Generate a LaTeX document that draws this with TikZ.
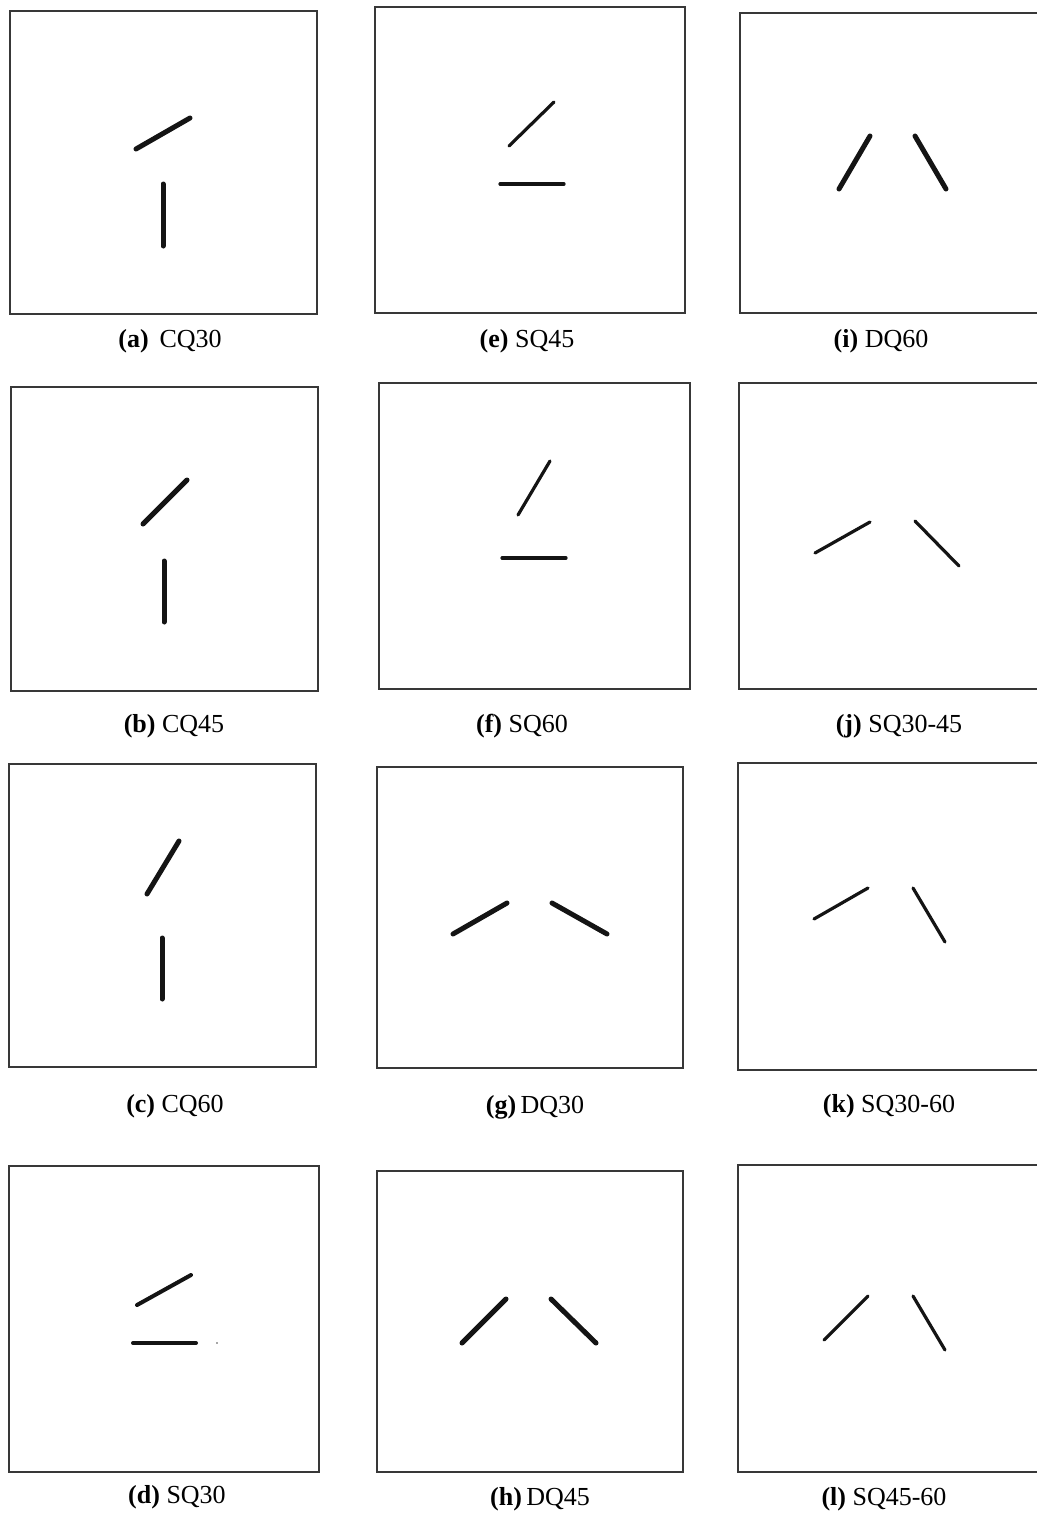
\documentclass[tikz,border=0pt]{standalone}
\usepackage{fontspec}
\setmainfont{Liberation Serif}
\begin{document}
\begin{tikzpicture}[x=1pt,y=-1pt,
  frame/.style={draw=black!78, line width=1.1pt},
  thickbar/.style={line width=5pt, line cap=round, draw=black!92},
  midbar/.style={line width=4pt, line cap=round, draw=black!92},
  thinbar/.style={line width=3.2pt, line cap=round, draw=black!92},
  caption/.style={font=\fontsize{26}{30}\selectfont, inner sep=0pt, anchor=base}]
\useasboundingbox (0,0) rectangle (1036,1520);
% ---------- column 1 ----------
% (a) CQ30
\draw[frame] (10,11) rectangle (317,314);
\draw[thickbar] (136,149) -- (190,118);
\draw[thickbar] (163,184) -- (163,246);
\node[caption] (capa) at (170,347) {\textbf{(a)}\, CQ30};
% (b) CQ45
\draw[frame] (11,387) rectangle (318,691);
\draw[thickbar] (143,524) -- (187,480);
\draw[thickbar] (164,561) -- (164,622);
\node[caption] (capb) at (174,732) {\textbf{(b)} CQ45};
% (c) CQ60
\draw[frame] (9,764) rectangle (316,1067);
\draw[thickbar] (147,894) -- (179,841);
\draw[thickbar] (162,938) -- (162,999);
\node[caption] (capc) at (175,1112) {\textbf{(c)} CQ60};
% (d) SQ30
\draw[frame] (9,1166) rectangle (319,1472);
\draw[midbar] (137,1305) -- (191,1275);
\draw[midbar] (133,1343) -- (196,1343);
\fill[black!70] (217,1343) circle (0.8);
\node[caption] (capd) at (177,1503) {\textbf{(d)} SQ30};
% ---------- column 2 ----------
% (e) SQ45
\draw[frame] (375,7) rectangle (685,313);
\draw[thinbar] (509,146) -- (554,102);
\draw[thinbar] (500,184) -- (564,184);
\node[caption] (cape) at (527,347) {\textbf{(e)} SQ45};
% (f) SQ60
\draw[frame] (379,383) rectangle (690,689);
\draw[thinbar] (518,515) -- (550,461);
\draw[thinbar] (502,558) -- (566,558);
\node[caption] (capf) at (522,732) {\textbf{(f)} SQ60};
% (g) DQ30
\draw[frame] (377,767) rectangle (683,1068);
\draw[thickbar] (453,934) -- (507,903);
\draw[thickbar] (552,903) -- (607,934);
\node[caption] (capg) at (535,1113) {\textbf{(g)}\,DQ30};
% (h) DQ45
\draw[frame] (377,1171) rectangle (683,1472);
\draw[thickbar] (462,1343) -- (506,1299);
\draw[thickbar] (551,1299) -- (596,1343);
\node[caption] (caph) at (540,1505) {\textbf{(h)}\,DQ45};
% ---------- column 3 ----------
% (i) DQ60
\draw[frame] (740,13) rectangle (1040,313);
\draw[thickbar] (839,189) -- (870,136);
\draw[thickbar] (915,136) -- (946,189);
\node[caption] (capi) at (881,347) {\textbf{(i)} DQ60};
% (j) SQ30-45
\draw[frame] (739,383) rectangle (1040,689);
\draw[thinbar] (815,553) -- (870,522);
\draw[thinbar] (915,521) -- (959,566);
\node[caption] (capj) at (899,732) {\textbf{(j)} SQ30-45};
% (k) SQ30-60
\draw[frame] (738,763) rectangle (1040,1070);
\draw[thinbar] (814,919) -- (868,888);
\draw[thinbar] (913,888) -- (945,942);
\node[caption] (capk) at (889,1112) {\textbf{(k)} SQ30-60};
% (l) SQ45-60
\draw[frame] (738,1165) rectangle (1040,1472);
\draw[thinbar] (824,1340) -- (868,1296);
\draw[thinbar] (913,1296) -- (945,1350);
\node[caption] (capl) at (884,1505) {\textbf{(l)} SQ45-60};
\end{tikzpicture}
\end{document}
